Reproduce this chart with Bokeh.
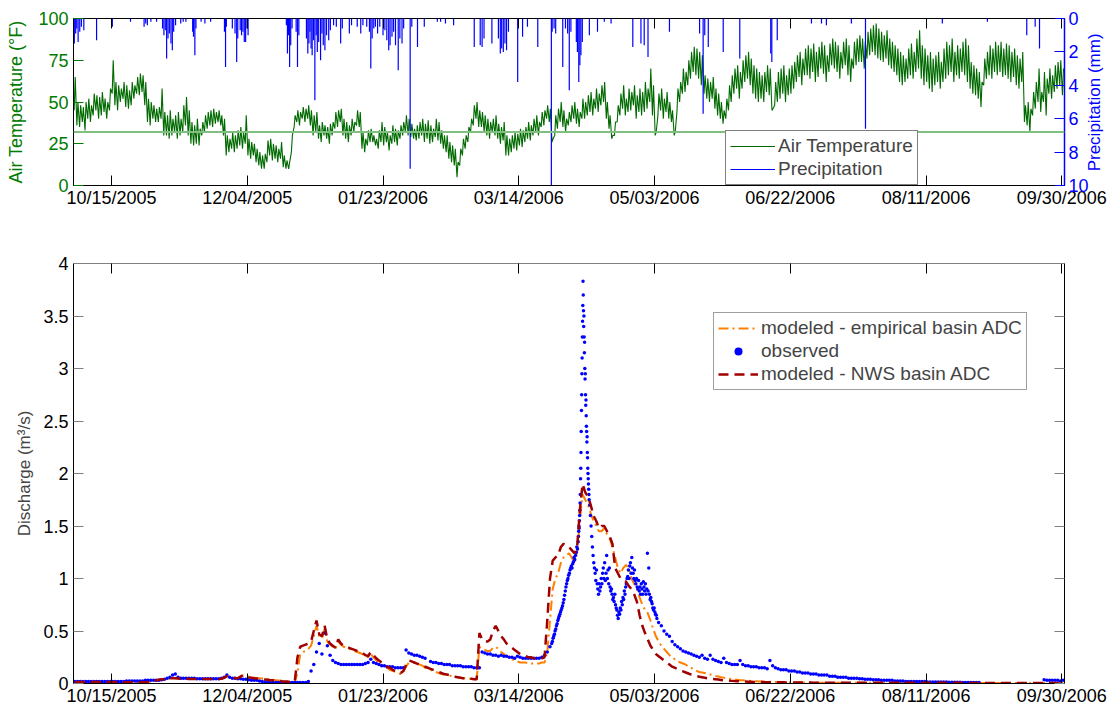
import math
import numpy as np
import pandas as pd
from bokeh.plotting import figure
from bokeh.layouts import column, row
from bokeh.core.properties import value
from bokeh.models import (Range1d, LinearAxis, DatetimeAxis, FixedTicker, DatetimeTickFormatter,
                          NumeralTickFormatter, Span, Legend, LegendItem)
from bokeh.embed import file_html
from bokeh.resources import INLINE

# ---------------------------------------------------------------- data
START = pd.Timestamp("2005-10-01")
END = pd.Timestamp("2006-10-01")
tick_labels = ["10/15/2005", "12/04/2005", "01/23/2006", "03/14/2006",
               "05/03/2006", "06/22/2006", "08/11/2006", "09/30/2006"]

# daily maximum / minimum air temperature (deg F), water year 2006, day 0 = Oct 1
temp_hi = [
    65, 50, 48, 47, 50, 52, 48, 55, 54, 53,
    56, 52, 50, 58, 75, 62, 60, 58, 62, 60,
    57, 62, 60, 65, 67, 66, 62, 52, 50, 48,
    46, 47, 58, 44, 42, 45, 40, 42, 44, 40,
    48, 53, 45, 38, 36, 40, 34, 38, 42, 44,
    45, 46, 44, 45, 42, 40, 30, 28, 32, 30,
    33, 35, 32, 42, 28, 26, 25, 22, 20, 18,
    19, 27, 28, 25, 24, 22, 26, 18, 15, 14,
    30, 42, 45, 44, 47, 46, 48, 45, 42, 44,
    36, 38, 36, 35, 37, 38, 44, 45, 46, 40,
    38, 36, 40, 38, 45, 44, 32, 28, 33, 34,
    30, 28, 33, 38, 35, 32, 30, 36, 34, 33,
    36, 38, 42, 40, 37, 34, 36, 38, 40, 37,
    39, 36, 34, 40, 38, 33, 30, 30, 26, 24,
    22, 14, 22, 28, 30, 35, 40, 48, 50, 45,
    44, 42, 40, 38, 40, 42, 37, 35, 38, 30,
    28, 30, 32, 31, 34, 33, 35, 38, 36, 40,
    42, 38, 44, 45, 48, 46, 28, 42, 46, 50,
    45, 40, 44, 48, 50, 46, 44, 52, 50, 54,
    56, 52, 58, 55, 60, 62, 50, 42, 30, 38,
    48, 55, 60, 52, 58, 56, 60, 54, 58, 56,
    62, 58, 70, 60, 32, 55, 58, 52, 56, 50,
    45, 32, 58, 62, 70, 68, 75, 80, 83, 82,
    80, 78, 66, 64, 62, 65, 58, 55, 50, 45,
    52, 60, 66, 70, 72, 68, 75, 78, 80, 76,
    72, 70, 68, 66, 68, 72, 70, 46, 62, 68,
    70, 72, 66, 70, 72, 74, 78, 80, 76, 82,
    84, 82, 85, 80, 83, 86, 84, 78, 85, 88,
    86, 84, 80, 86, 88, 84, 76, 86, 88, 90,
    88, 86, 92, 94, 96, 97, 94, 92, 90, 93,
    88, 86, 84, 82, 80, 78, 76, 82, 85, 80,
    88, 93, 84, 82, 78, 80, 76, 78, 80, 74,
    82, 86, 84, 88, 80, 84, 82, 86, 88, 84,
    74, 72, 70, 68, 62, 76, 80, 84, 82, 86,
    84, 86, 82, 85, 84, 80, 82, 78, 76, 80,
    48, 50, 46, 56, 62, 70, 56, 68, 64, 70,
    66, 72, 74, 75, 70,
]
temp_lo = [
    45, 36, 35, 38, 33, 40, 38, 42, 45, 40,
    42, 44, 40, 45, 55, 48, 45, 50, 52, 47,
    46, 48, 52, 55, 54, 56, 48, 38, 36, 40,
    38, 38, 40, 30, 30, 28, 30, 32, 28, 30,
    32, 36, 30, 25, 24, 25, 24, 30, 32, 34,
    36, 35, 37, 38, 36, 30, 18, 20, 22, 20,
    22, 24, 22, 25, 18, 16, 18, 14, 12, 10,
    10, 14, 18, 15, 16, 14, 16, 11, 10, 10,
    20, 35, 38, 36, 40, 38, 40, 36, 30, 32,
    28, 26, 30, 28, 25, 30, 34, 35, 38, 30,
    28, 26, 30, 32, 36, 35, 22, 20, 24, 26,
    26, 24, 22, 26, 24, 26, 21, 25, 26, 24,
    28, 30, 32, 30, 29, 28, 27, 28, 30, 26,
    28, 25, 26, 29, 27, 25, 22, 20, 16, 14,
    12, 5, 12, 18, 22, 26, 32, 36, 40, 35,
    35, 32, 30, 28, 32, 30, 28, 25, 27, 18,
    18, 20, 22, 21, 24, 23, 26, 28, 27, 30,
    32, 30, 35, 36, 40, 38, 26, 30, 34, 38,
    35, 32, 36, 38, 40, 37, 35, 40, 40, 42,
    44, 42, 46, 44, 48, 50, 40, 34, 28, 30,
    38, 42, 46, 42, 44, 45, 48, 40, 44, 42,
    44, 46, 50, 42, 30, 42, 45, 40, 44, 40,
    38, 30, 44, 50, 55, 56, 60, 64, 68, 66,
    64, 60, 55, 52, 50, 52, 46, 42, 40, 37,
    40, 45, 50, 55, 58, 52, 58, 62, 64, 60,
    55, 52, 50, 52, 50, 56, 54, 45, 48, 50,
    52, 55, 50, 54, 55, 58, 62, 65, 60, 66,
    66, 64, 68, 62, 65, 70, 67, 62, 68, 72,
    70, 68, 64, 70, 72, 66, 62, 70, 72, 74,
    74, 70, 76, 78, 80, 78, 76, 75, 74, 76,
    72, 70, 68, 66, 62, 60, 62, 64, 66, 64,
    68, 70, 64, 60, 62, 58, 56, 60, 62, 58,
    62, 64, 66, 68, 62, 66, 64, 68, 66, 62,
    58, 55, 54, 52, 47, 60, 64, 66, 64, 68,
    66, 68, 65, 66, 64, 62, 65, 60, 58, 62,
    38, 36, 32, 42, 46, 50, 44, 50, 42, 55,
    52, 56, 58, 60, 54,
]

# hourly precipitation events: day of water year and depth (mm)
precip_day = [
    0.3, 0.8, 1.2, 1.7, 2.3, 2.9, 3.8, 8.5, 14.3, 21.0, 26.0, 26.6, 27.2, 28.5, 30.6,
    32.8, 33.3, 33.8, 34.3, 34.8, 35.3, 35.9, 36.4, 36.9, 37.6, 39.5, 40.4, 41.4,
    43.9, 44.2, 44.7, 45.1, 47.0, 48.4, 50.5, 55.6, 56.0, 56.3, 58.5, 59.5, 60.1,
    60.5, 61.4, 61.9, 62.4, 62.9, 63.4, 63.9, 64.3, 78.4, 78.8, 79.2, 79.6, 80.0,
    80.5, 82.0, 82.5, 83.0, 85.8, 86.3, 86.7, 87.1, 87.5, 87.9, 88.4, 88.9, 89.4,
    89.8, 90.3, 91.0, 91.5, 92.0, 92.6, 93.2, 94.0, 94.6, 95.8, 96.8, 98.4, 99.0,
    101.6, 102.4, 104.5, 105.8, 106.6, 108.0, 109.0, 109.5, 110.0, 110.6, 111.2,
    112.0, 112.8, 114.0, 114.7, 115.4, 116.1, 116.6, 117.3, 117.9, 118.6, 119.6,
    120.2, 121.0, 121.6, 124.0, 124.6, 126.7, 129.2, 134.0, 135.2, 137.0, 140.0,
    147.6, 149.8, 150.5, 151.2, 154.1, 156.5, 157.2, 157.7, 158.3, 158.9, 159.5,
    160.2, 163.6, 165.4, 167.2, 171.0, 176.0, 176.3, 177.0, 177.6, 180.2, 181.2,
    182.0, 182.6, 183.2, 185.2, 185.6, 186.1, 186.5, 186.9, 187.4, 190.0, 193.0,
    195.5, 198.0, 206.0, 209.0, 210.2, 211.6, 219.5, 230.6, 231.9, 232.5, 233.8,
    239.3, 245.4, 256.8, 257.2, 259.2, 271.8, 275.5, 277.3, 286.5, 291.7, 320.0,
    336.6, 351.1, 354.2, 355.8,
]
precip_mm = [
    1.5, 0.9, 0.6, 1.4, 0.8, 0.5, 0.7, 1.3, 0.5, 0.2, 0.5, 0.3, 0.4, 0.2, 0.2,
    0.6, 1.0, 0.7, 2.4, 1.2, 0.9, 1.5, 1.9, 0.8, 0.4, 0.3, 0.2, 0.2,
    0.8, 1.1, 2.2, 0.6, 0.2, 0.3, 0.2, 0.8, 2.9, 0.5, 0.6, 0.9, 2.6,
    1.2, 0.7, 1.0, 0.8, 1.4, 1.4, 0.6, 1.0, 0.4, 2.1, 1.0, 2.9, 1.6,
    0.6, 0.8, 2.9, 1.0, 1.2, 2.1, 1.5, 0.8, 1.8, 2.2, 1.3, 4.9, 1.0,
    2.0, 1.4, 2.5, 0.9, 1.6, 1.9, 1.0, 1.3, 0.7, 0.4, 0.5, 1.5, 0.6,
    0.9, 0.4, 0.5, 0.9, 0.4, 0.5, 0.8, 3.0, 1.2, 0.6, 0.5,
    0.9, 0.5, 1.0, 0.7, 1.3, 1.9, 1.6, 1.1, 0.8, 1.6, 3.1,
    1.2, 1.5, 0.6, 9.0, 0.5, 1.7, 0.5, 0.2, 0.2, 0.3, 0.4,
    1.7, 1.6, 1.7, 1.2, 1.5, 1.2, 2.1, 1.8, 2.0, 1.5, 1.9,
    0.8, 3.8, 1.1, 0.5, 1.7, 10.0, 0.8, 0.6, 0.9, 2.9, 0.6,
    0.9, 4.3, 0.8, 1.4, 2.0, 3.8, 2.8, 2.2, 1.4, 1.0, 0.8,
    0.2, 0.3, 1.7, 1.5, 1.6, 2.3, 0.8, 0.9, 5.7, 1.0, 1.7,
    2.0, 2.4, 2.1, 2.6, 1.3, 0.3, 0.3, 0.4, 0.3, 6.6, 0.3,
    0.2, 1.0, 0.5, 1.8,
]

# observed discharge (m3/s): daily, days 0-175
obs_daily_a = [
    0.02, 0.02, 0.02, 0.02, 0.02, 0.02, 0.02, 0.02, 0.02, 0.02,
    0.02, 0.02, 0.02, 0.02, 0.02, 0.02, 0.02, 0.02, 0.02, 0.025,
    0.025, 0.025, 0.025, 0.025, 0.025, 0.025, 0.03, 0.03, 0.03, 0.03,
    0.03, 0.03, 0.035, 0.04, 0.05, 0.06, 0.08, 0.09, 0.06, 0.05,
    0.05, 0.05, 0.05, 0.05, 0.05, 0.045, 0.045, 0.045, 0.045, 0.045,
    0.045, 0.045, 0.045, 0.045, 0.05, 0.06, 0.08, 0.06, 0.05, 0.05,
    0.045, 0.045, 0.04, 0.04, 0.035, 0.03, 0.03, 0.03, 0.025, 0.02,
    0.015, 0.01, 0.01, 0.01, 0.01, 0.01, 0.01, 0.01, 0.01, 0.01,
    0.01, 0.01, 0.01, 0.01, 0.01, 0.01, 0.02, 0.12, 0.18, 0.3,
    0.38, 0.28, 0.48, 0.36, 0.27, 0.22, 0.2, 0.19, 0.18, 0.18,
    0.18, 0.18, 0.18, 0.18, 0.18, 0.18, 0.18, 0.19, 0.2, 0.23,
    0.2, 0.19, 0.18, 0.17, 0.17, 0.16, 0.16, 0.16, 0.15, 0.15,
    0.15, 0.15, 0.32, 0.29, 0.28, 0.27, 0.27, 0.26, 0.25, 0.24,
    None, 0.21, 0.2, 0.2, 0.19, 0.19, 0.18, 0.18, 0.18, 0.17,
    0.17, 0.17, 0.17, 0.16, 0.16, 0.16, 0.16, 0.15, 0.15, 0.15,
    0.3, 0.29, 0.28, 0.28, 0.27, 0.27, 0.26, 0.27, 0.26, 0.26,
    0.25, 0.25, 0.24, 0.26, 0.25, 0.24, 0.24, 0.24, 0.24, 0.24,
    0.24, 0.24, 0.25, 0.27, 0.3, 0.35,
]
# observed, 6-hourly, days 176-185
obs_6h_a = [
    0.38, 0.40, 0.43, 0.45, 0.47, 0.50, 0.52, 0.55, 0.57, 0.60,
    0.62, 0.64, 0.66, 0.68, 0.70, 0.72, 0.74, 0.77, 0.80, 0.84,
    0.88, 0.92, 0.95, 0.98, 1.00, 1.03, 1.05, 1.08, 1.10, 1.12,
    1.10, 1.14, 1.16, 1.20, 1.18, 1.22, 1.25, 1.30, 1.28, 1.35,
]
# observed, 2-hourly, days 186-189 (snowmelt peak)
obs_2h = [
    1.40, 1.45, 1.50, 1.48, 1.55, 1.60, 1.65, 1.72, 1.80, 1.95, 2.05, 2.20,
    2.40, 2.60, 2.75, 2.95, 3.10, 3.30, 3.45, 3.60, 3.83, 3.70, 3.55, 3.40,
    3.50, 3.30, 3.15, 3.25, 3.00, 2.90, 2.95, 2.75, 2.65, 2.70, 2.55, 2.45,
    2.40, 2.30, 2.35, 2.20, 2.15, 2.05, 2.00, 1.95, 1.90, 1.85, 1.80, 1.75,
]
# observed, 6-hourly, days 190-214
obs_6h_b = [
    1.70, 1.60, 1.50, 1.40, 1.30, 1.22, 1.15, 1.10, 1.05, 0.98,
    1.08, 0.95, 0.90, 0.85, 0.95, 0.88, 0.92, 1.00, 0.95, 1.05,
    1.10, 1.00, 1.15, 0.98, 1.05, 1.22, 1.00, 1.08, 0.95, 1.10,
    0.92, 0.88, 0.90, 0.85, 0.80, 0.82, 0.78, 0.85, 0.75, 0.72,
    0.70, 0.65, 0.62, 0.68, 0.66, 0.72, 0.70, 0.78, 0.75, 0.82,
    0.80, 0.88, 0.85, 0.92, 0.95, 1.00, 1.02, 1.08, 1.00, 1.12,
    1.15, 1.05, 1.20, 1.10, 1.05, 1.00, 1.08, 0.98, 0.95, 1.00,
    0.92, 0.90, 0.98, 0.88, 0.92, 0.85, 0.95, 0.90, 0.85, 0.97,
    0.92, 0.88, 0.95, 0.85, 0.90, 1.24, 0.88, 1.10, 0.85, 0.80,
    0.82, 0.78, 0.76, 0.72, 0.70, 0.72, 0.68, 0.66, 0.65, 0.62,
]
# observed, daily, days 215-364 (None = no record)
obs_daily_b = [
    0.58, 0.55, 0.50, 0.47, 0.45,
    0.40, 0.37, 0.35, 0.33, 0.31, 0.30, 0.29, 0.28, 0.27, 0.26,
    0.25, 0.27, 0.24, 0.23, 0.27, 0.23, 0.22, 0.21, 0.20, 0.24,
    0.20, 0.19, 0.18, 0.18, 0.18, 0.22, 0.18, 0.17, 0.17, 0.16,
    0.16, 0.16, 0.15, 0.15, 0.15, 0.14, 0.22, 0.17, 0.15, 0.14,
    0.13, 0.13, 0.13, 0.12, 0.12, 0.12, 0.11, 0.11, 0.10, 0.10,
    0.10, 0.09, 0.09, 0.09, 0.08, 0.08, 0.08, 0.08, 0.07, 0.07,
    0.07, 0.06, 0.06, 0.06, 0.06, 0.05, 0.05, 0.05, 0.05, 0.045,
    0.045, 0.04, 0.04, 0.04, 0.035, 0.035, 0.035, 0.03, 0.03, 0.03,
    0.03, 0.03, 0.025, 0.025, 0.025, 0.025, 0.02, 0.02, 0.02, 0.02,
    0.02, 0.02, 0.02, 0.02, 0.015, 0.015, 0.015, 0.015, 0.015, 0.015,
    0.015, 0.015, 0.012, 0.012, 0.012, 0.012, 0.012, 0.01, 0.01, 0.01,
    0.01, 0.01, 0.01, 0.01,
    None, None, None, None, None, None, None, None, None, None, None, None,
    None, None, None, None, None, None, None, None, None, None, None,
    0.035, 0.03, 0.03, 0.03, 0.03, 0.03, 0.025, 0.03,
]

# modeled daily discharge (m3/s), NWS basin areal depletion curve
q_nws = [
    0.015, 0.015, 0.015, 0.015, 0.015, 0.015, 0.015, 0.015, 0.015, 0.015,
    0.015, 0.015, 0.014, 0.014, 0.014, 0.014, 0.014, 0.013, 0.013, 0.013,
    0.013, 0.013, 0.013, 0.012, 0.012, 0.012, 0.012, 0.015, 0.02, 0.025,
    0.03, 0.035, 0.04, 0.04, 0.045, 0.05, 0.05, 0.05, 0.048, 0.046,
    0.045, 0.045, 0.044, 0.044, 0.043, 0.043, 0.042, 0.042, 0.042, 0.042,
    0.042, 0.042, 0.042, 0.042, 0.045, 0.055, 0.07, 0.06, 0.055, 0.05,
    0.05, 0.065, 0.08, 0.07, 0.06, 0.055, 0.05, 0.048, 0.045, 0.04,
    0.038, 0.035, 0.032, 0.03, 0.028, 0.025, 0.022, 0.02, 0.018, 0.015,
    0.012, 0.02, 0.25, 0.35, 0.36, 0.37, 0.38, 0.40, 0.50, 0.60,
    0.47, 0.45, 0.55, 0.42, 0.38, 0.36, 0.34, 0.42, 0.38, 0.36,
    0.35, 0.34, 0.33, 0.32, 0.31, 0.30, 0.29, 0.27, 0.26, 0.30,
    0.27, 0.24, 0.22, 0.20, 0.18, 0.16, 0.15, 0.13, 0.12, 0.11,
    0.10, 0.12, 0.18, 0.22, 0.21, 0.20, 0.19, 0.18, 0.17, 0.16,
    0.15, 0.14, 0.13, 0.12, 0.11, 0.10, 0.09, 0.085, 0.08, 0.07,
    0.065, 0.06, 0.055, 0.05, 0.05, 0.045, 0.045, 0.04, 0.04, 0.48,
    0.42, 0.40, 0.40, 0.42, 0.50, 0.55, 0.50, 0.45, 0.42, 0.38,
    0.36, 0.34, 0.32, 0.30, 0.28, 0.27, 0.26, 0.25, 0.25, 0.24,
    0.24, 0.24, 0.24, 0.25, 0.60, 1.00, 1.17, 1.20, 1.22, 1.30,
    1.33, 1.32, 1.30, 1.27, 1.24, 1.30, 1.65, 1.90, 1.82, 1.78,
    1.70, 1.60, 1.55, 1.48, 1.50, 1.50, 1.45, 1.40, 1.33, 1.10,
    1.05, 1.00, 0.98, 0.97, 0.93, 0.90, 0.85, 0.78, 0.65, 0.55,
    0.48, 0.42, 0.36, 0.32, 0.28, 0.26, 0.24, 0.22, 0.20, 0.18,
    0.16, 0.15, 0.135, 0.125, 0.115, 0.105, 0.095, 0.085, 0.078, 0.07,
    0.065, 0.06, 0.055, 0.05, 0.046, 0.043, 0.04, 0.037, 0.034, 0.031,
    0.029, 0.027, 0.025, 0.023, 0.022, 0.02, 0.019, 0.018, 0.017, 0.016,
    0.015, 0.015, 0.014, 0.014, 0.013, 0.013, 0.012, 0.012, 0.012, 0.011,
    0.011, 0.011, 0.01, 0.01, 0.01, 0.01, 0.01, 0.009, 0.009, 0.009,
    0.009, 0.009, 0.008, 0.008, 0.008, 0.008, 0.008, 0.008, 0.007, 0.007,
    0.007, 0.007, 0.007, 0.007, 0.007, 0.007, 0.007, 0.007, 0.007, 0.007,
    0.007, 0.007, 0.007, 0.007, 0.007, 0.007, 0.007, 0.007, 0.007, 0.007,
    0.006, 0.006, 0.006, 0.006, 0.006, 0.006, 0.006, 0.006, 0.006, 0.006,
    0.006, 0.006, 0.006, 0.006, 0.006, 0.006, 0.006, 0.006, 0.006, 0.006,
    0.006, 0.006, 0.006, 0.006, 0.006, 0.006, 0.006, 0.006, 0.006, 0.006,
    0.005, 0.005, 0.005, 0.005, 0.005, 0.005, 0.005, 0.005, 0.005, 0.005,
    0.005, 0.005, 0.005, 0.005, 0.005, 0.005, 0.005, 0.005, 0.005, 0.005,
    0.005, 0.005, 0.005, 0.005, 0.005, 0.005, 0.005, 0.005, 0.005, 0.005,
    0.005, 0.005, 0.005, 0.005, 0.005,
]
# modeled daily discharge (m3/s), empirical basin areal depletion curve
q_emp = [
    0.012, 0.012, 0.012, 0.012, 0.012, 0.012, 0.012, 0.012, 0.012, 0.012,
    0.012, 0.012, 0.012, 0.012, 0.012, 0.012, 0.012, 0.012, 0.012, 0.012,
    0.012, 0.012, 0.012, 0.012, 0.012, 0.012, 0.012, 0.014, 0.018, 0.022,
    0.026, 0.03, 0.034, 0.038, 0.042, 0.045, 0.048, 0.05, 0.05, 0.048,
    0.047, 0.046, 0.045, 0.045, 0.044, 0.044, 0.043, 0.043, 0.043, 0.043,
    0.043, 0.043, 0.043, 0.044, 0.047, 0.055, 0.068, 0.062, 0.058, 0.055,
    0.053, 0.065, 0.078, 0.072, 0.065, 0.06, 0.056, 0.052, 0.05, 0.047,
    0.044, 0.041, 0.038, 0.035, 0.032, 0.029, 0.026, 0.023, 0.02, 0.017,
    0.012, 0.015, 0.10, 0.28, 0.30, 0.31, 0.33, 0.36, 0.45, 0.55,
    0.45, 0.43, 0.52, 0.40, 0.37, 0.35, 0.33, 0.40, 0.37, 0.35,
    0.34, 0.33, 0.32, 0.31, 0.30, 0.29, 0.28, 0.26, 0.25, 0.28,
    0.25, 0.22, 0.20, 0.18, 0.16, 0.15, 0.13, 0.12, 0.11, 0.10,
    0.09, 0.11, 0.16, 0.20, 0.21, 0.20, 0.19, 0.18, 0.17, 0.15,
    0.14, 0.13, 0.12, 0.11, 0.10, 0.09, 0.085, 0.08, 0.075, 0.07,
    0.065, 0.06, 0.055, 0.05, 0.05, 0.045, 0.045, 0.04, 0.04, 0.35,
    0.33, 0.32, 0.31, 0.31, 0.34, 0.35, 0.33, 0.30, 0.28, 0.26,
    0.25, 0.23, 0.22, 0.21, 0.20, 0.20, 0.20, 0.19, 0.19, 0.19,
    0.19, 0.19, 0.20, 0.20, 0.30, 0.60, 0.90, 1.00, 1.05, 1.15,
    1.20, 1.22, 1.24, 1.20, 1.15, 1.25, 1.55, 1.80, 1.75, 1.70,
    1.62, 1.55, 1.50, 1.45, 1.45, 1.48, 1.42, 1.38, 1.30, 1.20,
    1.10, 1.05, 1.10, 1.13, 1.10, 1.00, 0.95, 0.90, 0.82, 0.75,
    0.70, 0.67, 0.60, 0.52, 0.45, 0.40, 0.36, 0.33, 0.30, 0.27,
    0.25, 0.23, 0.21, 0.20, 0.19, 0.18, 0.16, 0.15, 0.13, 0.12,
    0.11, 0.105, 0.10, 0.09, 0.085, 0.08, 0.072, 0.066, 0.06, 0.056,
    0.05, 0.046, 0.042, 0.038, 0.035, 0.032, 0.03, 0.028, 0.026, 0.024,
    0.022, 0.021, 0.02, 0.019, 0.018, 0.017, 0.016, 0.015, 0.014, 0.013,
    0.012, 0.012, 0.011, 0.011, 0.01, 0.01, 0.01, 0.01, 0.009, 0.009,
    0.009, 0.009, 0.008, 0.008, 0.008, 0.008, 0.008, 0.008, 0.008, 0.008,
    0.008, 0.008, 0.008, 0.008, 0.007, 0.007, 0.007, 0.007, 0.007, 0.007,
    0.007, 0.007, 0.007, 0.007, 0.007, 0.007, 0.007, 0.007, 0.007, 0.007,
    0.007, 0.007, 0.007, 0.007, 0.006, 0.006, 0.006, 0.006, 0.006, 0.006,
    0.006, 0.006, 0.006, 0.006, 0.006, 0.006, 0.006, 0.006, 0.006, 0.006,
    0.006, 0.006, 0.006, 0.006, 0.006, 0.006, 0.006, 0.006, 0.006, 0.006,
    0.006, 0.006, 0.006, 0.006, 0.005, 0.005, 0.005, 0.005, 0.005, 0.005,
    0.005, 0.005, 0.005, 0.005, 0.005, 0.005, 0.005, 0.005, 0.005, 0.005,
    0.005, 0.005, 0.005, 0.005, 0.005, 0.005, 0.005, 0.005, 0.005, 0.005,
    0.005, 0.005, 0.005, 0.005, 0.005,
]

# ---------------------------------------------------------------- helpers
FONT = "Liberation Sans"
TXT = "18px"
LEG_TXT = "19px"
AXIS_GREEN = "#007a00"
TEMP_GREEN = "#006a00"
FREEZE_GREEN = "#80bf80"
BLUE = "#0000ff"
ORANGE = "#ff8000"
DARKRED = "#a00000"
PRECIP_TITLE = "Precipitation (mm)"


def to_time(days):
    d = np.asarray(days, dtype=float)
    return START + pd.to_timedelta(d, unit="D")


def as_float(values):
    return np.array([np.nan if v is None else v for v in values], dtype=float)


def ms(ts):
    return pd.Timestamp(ts).value / 1e6


tick_ms = [ms(pd.to_datetime(s, format="%m/%d/%Y")) for s in tick_labels]
DATE_FMT = "%m/%d/%Y"


def date_formatter():
    return DatetimeTickFormatter(days=DATE_FMT, months=DATE_FMT, years=DATE_FMT,
                                 hours=DATE_FMT, hourmin=DATE_FMT, minutes=DATE_FMT)


def style_axis(ax, label_color="black", tick_color="black", line_color="black"):
    ax.major_label_text_font = FONT
    ax.major_label_text_font_size = TXT
    ax.major_label_text_color = label_color
    ax.major_tick_in = 10
    ax.major_tick_out = 0
    ax.minor_tick_in = 0
    ax.minor_tick_out = 0
    ax.major_tick_line_color = tick_color
    ax.axis_line_color = line_color
    ax.axis_label_text_font = FONT
    ax.axis_label_text_font_style = "normal"


def tick_only_axis(ax, tick_color):
    # an axis that only contributes its inward tick marks (labels are not painted)
    ax.major_label_text_font_size = "1px"
    ax.major_label_text_color = None
    ax.major_tick_in = 10
    ax.major_tick_out = 0
    ax.minor_tick_in = 0
    ax.minor_tick_out = 0
    ax.major_tick_line_color = tick_color
    ax.axis_line_color = None
    ax.major_label_standoff = 0


def style_legend(lg, glyph_width):
    lg.label_text_font = FONT
    lg.label_text_font_size = LEG_TXT
    lg.border_line_color = "black"
    lg.border_line_width = 1
    lg.background_fill_alpha = 1.0
    lg.padding = 4
    lg.spacing = 1
    lg.margin = 0
    lg.glyph_width = glyph_width
    lg.glyph_height = 20
    lg.label_height = 20
    lg.label_standoff = 3


# the precipitation axis title reads bottom-to-top; it can be drawn by the axis
# itself when the axis supports a free label orientation and alignment
ra_probe = LinearAxis()
AXIS_TITLE_OK = ("axis_label_orientation" in ra_probe.properties()
                 and "axis_label_align" in ra_probe.properties())

# ---------------------------------------------------------------- top panel
TOP_H = 215
top = figure(frame_width=991, frame_height=167, x_axis_type="datetime",
             x_range=Range1d(START, END), y_range=Range1d(0, 100),
             output_backend="svg", toolbar_location=None,
             min_border_left=73, min_border_right=48 if AXIS_TITLE_OK else 28,
             min_border_top=18, min_border_bottom=30)
top.xgrid.visible = False
top.ygrid.visible = False
top.outline_line_color = "black"
top.extra_y_ranges = {"precip": Range1d(start=10, end=0)}

days = np.arange(min(len(temp_hi), len(temp_lo)))
temp_t = to_time(np.column_stack([days + 0.25, days + 0.625]).ravel())
temp_v = np.column_stack([np.asarray(temp_lo[:len(days)], float),
                          np.asarray(temp_hi[:len(days)], float)]).ravel()

top.add_layout(Span(location=32, dimension="width", line_color=FREEZE_GREEN, line_width=2))
temp_r = top.line(temp_t, temp_v, line_color=TEMP_GREEN, line_width=1.1)

n_p = min(len(precip_day), len(precip_mm))
p_t = to_time(precip_day[:n_p])
precip_r = top.segment(x0=p_t, y0=np.zeros(n_p), x1=p_t, y1=precip_mm[:n_p],
                       y_range_name="precip", line_color=BLUE, line_width=1.2)

xa = top.xaxis[0]
xa.ticker = FixedTicker(ticks=tick_ms)
xa.formatter = date_formatter()
style_axis(xa)
xa.major_label_standoff = 2

ya = top.yaxis[0]
ya.ticker = FixedTicker(ticks=[0, 25, 50, 75, 100])
style_axis(ya, label_color=AXIS_GREEN, tick_color=AXIS_GREEN, line_color="black")
ya.axis_label = "Air Temperature (\u00b0F)"
ya.axis_label_text_color = AXIS_GREEN
ya.axis_label_text_font_size = TXT
ya.major_label_standoff = 5
ya.axis_label_standoff = 9

ra = LinearAxis(y_range_name="precip", ticker=FixedTicker(ticks=[0, 2, 4, 6, 8, 10]))
style_axis(ra, label_color=BLUE, tick_color=BLUE, line_color=BLUE)
ra.axis_line_width = 1.5
ra.major_label_standoff = 4
if AXIS_TITLE_OK:
    ra.axis_label = "\u00a0\u00a0\u00a0" + PRECIP_TITLE
    ra.axis_label_text_color = BLUE
    ra.axis_label_text_font_size = "17px"
    ra.axis_label_standoff = 3
    ra.axis_label_orientation = math.pi / 2
    ra.axis_label_align = "end"
top.add_layout(ra, "right")

ta = DatetimeAxis(ticker=FixedTicker(ticks=tick_ms), formatter=date_formatter())
tick_only_axis(ta, "black")
top.add_layout(ta, "above")

top_legend = Legend(items=[LegendItem(label="Air Temperature", renderers=[temp_r]),
                           LegendItem(label="Precipitation", renderers=[precip_r])],
                    location=(652, 0))
style_legend(top_legend, 45)
top.add_layout(top_legend)

if AXIS_TITLE_OK:
    top_row = top
else:
    # narrow strip to the right of the top panel carrying the precipitation axis title
    title_strip = figure(width=20, height=TOP_H, x_range=Range1d(0, 1), y_range=Range1d(0, TOP_H),
                         output_backend="svg", toolbar_location=None,
                         min_border=0, min_border_left=0, min_border_right=0,
                         min_border_top=0, min_border_bottom=0)
    title_strip.axis.visible = False
    title_strip.xgrid.visible = False
    title_strip.ygrid.visible = False
    title_strip.outline_line_color = None
    title_strip.text(x=[0.45], y=[TOP_H - 18 - 167 / 2], text=[PRECIP_TITLE],
                     angle=math.pi / 2, text_align="center", text_baseline="middle",
                     text_color=BLUE, text_font=value(FONT), text_font_size=value(TXT))
    top_row = row(top, title_strip)

# ---------------------------------------------------------------- discharge panel
bot = figure(frame_width=991, frame_height=420, x_axis_type="datetime",
             x_range=Range1d(START, END), y_range=Range1d(0, 4),
             output_backend="svg", toolbar_location=None,
             min_border_left=73, min_border_right=48, min_border_top=48, min_border_bottom=26)
bot.xgrid.visible = False
bot.ygrid.visible = False
bot.outline_line_color = "#808080"

q_t = to_time(np.arange(len(q_emp)) + 0.5)
emp_r = bot.line(q_t, q_emp, line_color=ORANGE, line_width=2, line_dash="10 4 2 4")

obs_t = np.concatenate([
    np.arange(len(obs_daily_a)) + 0.5,
    176 + np.arange(len(obs_6h_a)) * 0.25 + 0.125,
    186 + np.arange(len(obs_2h)) / 12.0,
    190 + np.arange(len(obs_6h_b)) * 0.25 + 0.125,
    215 + np.arange(len(obs_daily_b)) + 0.5,
])
obs_v = np.concatenate([as_float(obs_daily_a), as_float(obs_6h_a), as_float(obs_2h),
                        as_float(obs_6h_b), as_float(obs_daily_b)])
keep = ~np.isnan(obs_v)
obs_r = bot.scatter(to_time(obs_t[keep]), obs_v[keep], marker="circle", size=3.5,
                    fill_color=BLUE, line_color=None)

nws_t = to_time(np.arange(len(q_nws)) + 0.5)
nws_r = bot.line(nws_t, q_nws, line_color=DARKRED, line_width=2.5, line_dash="10 6")

bx = bot.xaxis[0]
bx.ticker = FixedTicker(ticks=tick_ms)
bx.formatter = date_formatter()
style_axis(bx)
bx.major_label_standoff = 2

by = bot.yaxis[0]
by.ticker = FixedTicker(ticks=[0, 0.5, 1, 1.5, 2, 2.5, 3, 3.5, 4])
by.formatter = NumeralTickFormatter(format="0.[0]")
style_axis(by, tick_color="#808080")
by.axis_label = "Discharge (m\u00b3/s)"
by.axis_label_text_font_size = "17px"
by.major_label_standoff = 5
by.axis_label_standoff = 6

bt = DatetimeAxis(ticker=FixedTicker(ticks=tick_ms), formatter=date_formatter())
tick_only_axis(bt, "black")
bot.add_layout(bt, "above")
br = LinearAxis(ticker=FixedTicker(ticks=[0, 0.5, 1, 1.5, 2, 2.5, 3, 3.5, 4]))
tick_only_axis(br, "#808080")
br.axis_line_color = "black"
bot.add_layout(br, "right")

bot_legend = Legend(items=[LegendItem(label="modeled - empirical basin ADC", renderers=[emp_r]),
                           LegendItem(label="observed", renderers=[obs_r]),
                           LegendItem(label="modeled - NWS basin ADC", renderers=[nws_r])],
                    location=(640, 293))
style_legend(bot_legend, 40)
bot_legend.border_line_color = "#404040"
bot.add_layout(bot_legend)

layout = column(top_row, bot)
with open("out.html", "w") as fh:
    fh.write(file_html(layout, INLINE, title="Air temperature, precipitation and discharge"))
